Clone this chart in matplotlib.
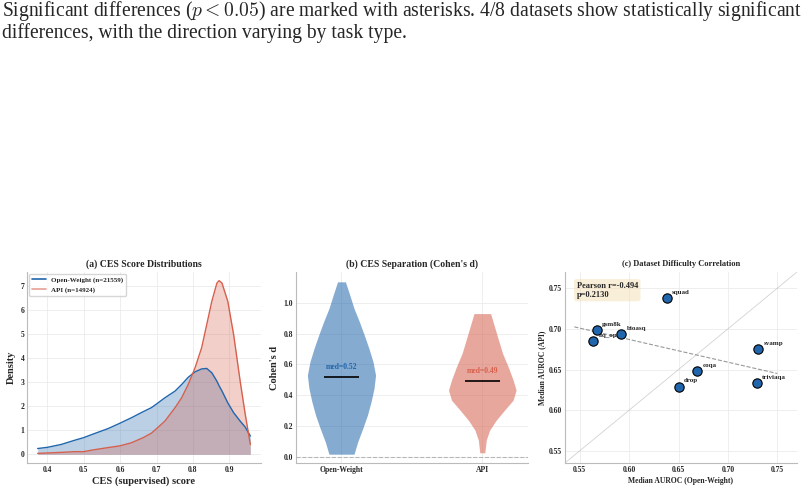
import numpy as np
import matplotlib
matplotlib.use("Agg")
import matplotlib.pyplot as plt
import seaborn as sns
from matplotlib.lines import Line2D

sns.set_style("whitegrid")
plt.rcParams['font.family'] = ['Liberation Serif', 'DejaVu Serif']
plt.rcParams['font.weight'] = 'bold'
plt.rcParams['axes.labelweight'] = 'bold'
plt.rcParams['axes.titleweight'] = 'bold'
plt.rcParams['mathtext.fontset'] = 'cm'

BLUE = '#2166ac'
RED = '#d6604d'

# (a) CES score density curves
ces_x = [0.373, 0.400, 0.438, 0.474, 0.499, 0.529, 0.567, 0.599, 0.631, 0.663,
         0.686, 0.698, 0.723, 0.751, 0.769, 0.787, 0.806, 0.824, 0.838, 0.852,
         0.866, 0.872, 0.880, 0.896, 0.912, 0.930, 0.944, 0.958]
dens_open = [0.24, 0.29, 0.41, 0.58, 0.69, 0.86, 1.07, 1.29, 1.52, 1.77,
             1.94, 2.07, 2.35, 2.63, 2.90, 3.20, 3.43, 3.55, 3.57, 3.39,
             3.04, 2.85, 2.63, 2.14, 1.73, 1.38, 1.13, 0.76]
dens_api = [0.04, 0.055, 0.08, 0.11, 0.11, 0.19, 0.28, 0.35, 0.48, 0.69,
            0.88, 1.04, 1.38, 1.94, 2.35, 2.90, 3.60, 4.43, 5.39, 6.36,
            7.12, 7.22, 7.12, 6.36, 4.98, 3.04, 1.66, 0.41]
n_open, n_api = 21559, 14924

# (b) Cohen's d violin profiles (half-widths)
d_open = [0.017, 0.097, 0.184, 0.270, 0.357, 0.444, 0.530, 0.617, 0.703,
          0.790, 0.877, 0.963, 1.050, 1.136]
hw_open = [0.089, 0.115, 0.151, 0.184, 0.210, 0.231, 0.242, 0.224, 0.195,
           0.162, 0.127, 0.089, 0.059, 0.028]
d_api = [0.026, 0.108, 0.173, 0.238, 0.303, 0.368, 0.433, 0.498, 0.584,
         0.671, 0.758, 0.844, 0.930]
hw_api = [0.018, 0.028, 0.052, 0.099, 0.158, 0.219, 0.240, 0.219, 0.184,
          0.144, 0.115, 0.087, 0.059]
med_open, med_api = 0.52, 0.49
groups = ['Open-Weight', 'API']

# (c) dataset median AUROC
datasets = ['squad', 'gsm8k', 'bioasq', 'nq_open', 'svamp', 'coqa', 'drop', 'triviaqa']
auroc_open = [0.638, 0.567, 0.592, 0.5635, 0.731, 0.669, 0.650, 0.729]
auroc_api = [0.738, 0.699, 0.694, 0.685, 0.675, 0.648, 0.629, 0.633]
pearson_r, pearson_p = -0.494, 0.2130

fig = plt.figure(figsize=(8.04, 4.93), dpi=100)

fig.text(0.002, 1 - 11 / 493,
         r"Significant differences ($p < 0.05$) are marked with asterisks. 4/8 datasets show statistically significant",
         fontsize=14.1, fontweight='normal', va='center', ha='left')
fig.text(0.002, 1 - 33 / 493,
         "differences, with the direction varying by task type.",
         fontsize=14.1, fontweight='normal', va='center', ha='left')

ax1 = fig.add_axes([0.0336, 0.0609, 0.291, 0.3874])
ax2 = fig.add_axes([0.3678, 0.0609, 0.289, 0.3874])
ax3 = fig.add_axes([0.7027, 0.0609, 0.2886, 0.3874])

# --- (a)
ax1.plot(ces_x, dens_open, color=BLUE, lw=1.0)
ax1.fill_between(ces_x, dens_open, color=BLUE, alpha=0.3, lw=0)
ax1.plot(ces_x, dens_api, color=RED, lw=1.0)
ax1.fill_between(ces_x, dens_api, color=RED, alpha=0.3, lw=0)
ax1.set_title('(a) CES Score Distributions', fontsize=7, pad=4)
ax1.set_xlabel('CES (supervised) score', fontsize=7.5, labelpad=2)
ax1.set_ylabel('Density', fontsize=7.5, labelpad=3)
ax1.set_xticks([0.4, 0.5, 0.6, 0.7, 0.8, 0.9])
ax1.set_yticks(range(0, 8))
handles = [Line2D([], [], color=BLUE, lw=1.2),
           Line2D([], [], color=RED, lw=1.2, alpha=0.6)]
ax1.legend(handles, [f'Open-Weight (n={n_open})', f'API (n={n_api})'],
           loc='upper left', fontsize=5, frameon=True, borderaxespad=0.3)

# --- (b)
for pos, ys, hw, col in [(1, d_open, hw_open, BLUE), (2, d_api, hw_api, RED)]:
    ys = np.array(ys)
    hw = np.array(hw)
    ax2.fill_betweenx(ys, pos - hw, pos + hw, color=col, alpha=0.55, lw=0)
for pos, med, col in [(1, med_open, BLUE), (2, med_api, RED)]:
    ax2.hlines(med, pos - 0.125, pos + 0.125, color='black', lw=1.2, zorder=3)
    ax2.text(pos, med + 0.04, f'med={med:.2f}', color=col, fontsize=5.5,
             ha='center', va='bottom')
ax2.axhline(0, color='gray', ls='--', lw=0.8, alpha=0.5)
ax2.set_xlim(0.675, 2.325)
ax2.set_ylim(-0.04, 1.2)
ax2.set_xticks([1, 2])
ax2.set_xticklabels(groups)
ax2.set_yticks([0, 0.2, 0.4, 0.6, 0.8, 1.0])
ax2.set_ylabel("Cohen's d", fontsize=7.5, labelpad=3)
ax2.set_title("(b) CES Separation (Cohen's d)", fontsize=7, pad=4)

# --- (c)
lims = (0.535, 0.77)
ax3.plot(lims, lims, color='gray', lw=0.6, alpha=0.35)
xo = np.array(auroc_open)
ya = np.array(auroc_api)
coef = np.polyfit(xo, ya, 1)
xl = np.linspace(xo.min() - 0.019, xo.max() + 0.019, 50)
ax3.plot(xl, np.polyval(coef, xl), ls='--', color='gray', lw=0.8, alpha=0.8)
ax3.scatter(xo, ya, s=45, color=BLUE, edgecolor='black', lw=0.8, zorder=3)
for name, x, y in zip(datasets, auroc_open, auroc_api):
    ax3.annotate(name, (x, y), xytext=(4, 3), textcoords='offset points',
                 fontsize=5, zorder=2)
ax3.text(0.05, 0.95, f'Pearson r={pearson_r:.3f}\np={pearson_p:.4f}',
         transform=ax3.transAxes, fontsize=6, va='top', ha='left',
         bbox=dict(boxstyle='round,pad=0.3', facecolor='wheat', alpha=0.5, lw=0))
ax3.set_xlim(lims)
ax3.set_ylim(lims)
ax3.set_xticks([0.55, 0.60, 0.65, 0.70, 0.75])
ax3.set_yticks([0.55, 0.60, 0.65, 0.70, 0.75])
ax3.set_xlabel('Median AUROC (Open-Weight)', fontsize=5.5, labelpad=2)
ax3.set_ylabel('Median AUROC (API)', fontsize=5.5, labelpad=2)
ax3.set_title('(c) Dataset Difficulty Correlation', fontsize=6, pad=4)

for ax in (ax1, ax2, ax3):
    sns.despine(ax=ax)
    ax.tick_params(labelsize=5.5, pad=2, length=0)
    ax.grid(True, color='#ebebeb', lw=0.6)
    for s in ('left', 'bottom'):
        ax.spines[s].set_color('#bbbbbb')
        ax.spines[s].set_linewidth(0.8)

fig.savefig('out.png', dpi=100)
